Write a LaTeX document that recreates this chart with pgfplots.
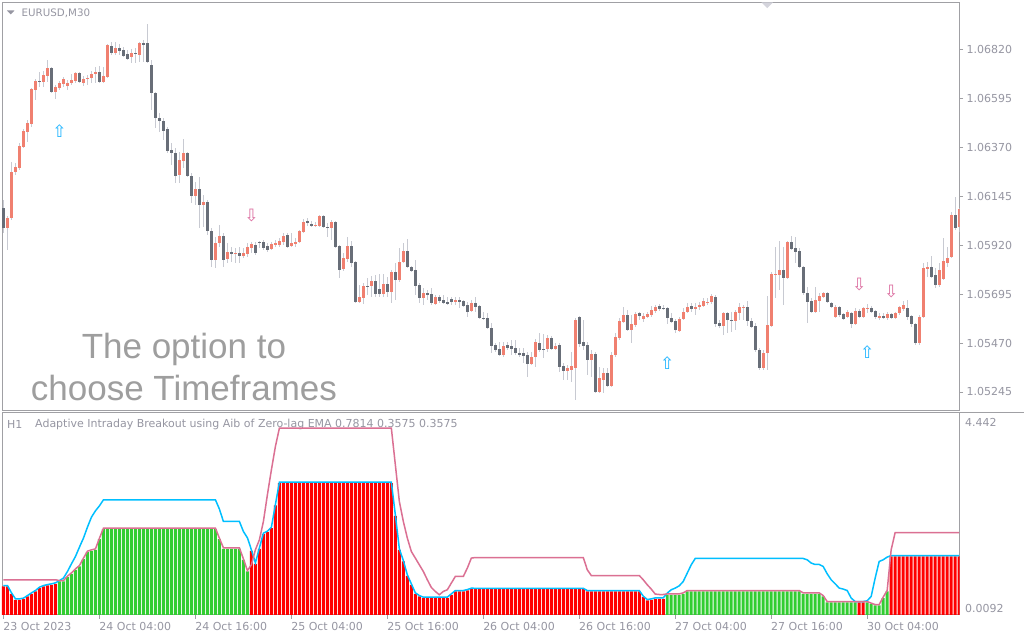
\documentclass[border=0pt]{standalone}
\usepackage{pgfplots}
\pgfplotsset{compat=1.18}
\usepackage{pgfplotstable}
\usepackage{fontspec}
\setmainfont{DejaVu Sans}
\newfontfamily\bigfont{Liberation Sans}

\definecolor{framegray}{RGB}{160,160,164}
\definecolor{ticktext}{RGB}{150,150,162}
\definecolor{bull}{RGB}{240,128,112}
\definecolor{bear}{RGB}{104,110,120}
\definecolor{wick}{RGB}{200,202,210}
\definecolor{histred}{RGB}{255,0,0}
\definecolor{histgreen}{RGB}{50,205,50}
\definecolor{aibcyan}{RGB}{0,191,255}
\definecolor{aibpink}{RGB}{219,112,147}
\definecolor{uparrow}{RGB}{30,180,255}
\definecolor{dnarrow}{RGB}{220,110,160}
\definecolor{bigtext}{RGB}{158,158,158}
\definecolor{marker}{RGB}{212,212,220}

% EURUSD M30 candles: bar index, open, high, low, close
\pgfplotstableread{
i o h l c
0 1.06092 1.06129 1.05977 1.06000
1 1.06000 1.06055 1.05899 1.06046
2 1.06046 1.06303 1.06037 1.06257
3 1.06257 1.06299 1.06244 1.06280
4 1.06276 1.06391 1.06267 1.06377
5 1.06372 1.06455 1.06368 1.06446
6 1.06441 1.06497 1.06395 1.06483
7 1.06478 1.06644 1.06464 1.06639
8 1.06635 1.06685 1.06589 1.06676
9 1.06676 1.06717 1.06648 1.06671
10 1.06671 1.06722 1.06648 1.06704
11 1.06699 1.06773 1.06671 1.06736
12 1.06736 1.06740 1.06621 1.06625
13 1.06625 1.06658 1.06593 1.06648
14 1.06644 1.06676 1.06635 1.06667
15 1.06662 1.06694 1.06648 1.06685
16 1.06653 1.06681 1.06635 1.06667
17 1.06667 1.06708 1.06658 1.06681
18 1.06676 1.06717 1.06667 1.06713
19 1.06713 1.06717 1.06667 1.06671
20 1.06667 1.06699 1.06653 1.06685
21 1.06685 1.06704 1.06658 1.06690
22 1.06690 1.06722 1.06667 1.06708
23 1.06708 1.06740 1.06667 1.06717
24 1.06717 1.06745 1.06667 1.06671
25 1.06671 1.06740 1.06667 1.06699
26 1.06694 1.06846 1.06690 1.06842
27 1.06837 1.06855 1.06796 1.06805
28 1.06805 1.06855 1.06796 1.06828
29 1.06828 1.06846 1.06796 1.06814
30 1.06819 1.06832 1.06786 1.06791
31 1.06800 1.06819 1.06773 1.06777
32 1.06786 1.06823 1.06759 1.06805
33 1.06805 1.06828 1.06759 1.06800
34 1.06796 1.06855 1.06763 1.06851
35 1.06851 1.06865 1.06763 1.06842
36 1.06851 1.06938 1.06759 1.06763
37 1.06750 1.06773 1.06543 1.06621
38 1.06621 1.06625 1.06460 1.06506
39 1.06506 1.06529 1.06441 1.06492
40 1.06492 1.06506 1.06405 1.06446
41 1.06455 1.06464 1.06345 1.06354
42 1.06359 1.06391 1.06290 1.06345
43 1.06345 1.06368 1.06207 1.06239
44 1.06244 1.06349 1.06207 1.06313
45 1.06308 1.06409 1.06276 1.06345
46 1.06345 1.06349 1.06234 1.06239
47 1.06239 1.06253 1.06115 1.06147
48 1.06147 1.06211 1.06106 1.06179
49 1.06179 1.06234 1.06000 1.06106
50 1.06106 1.06152 1.06004 1.06119
51 1.06119 1.06129 1.05968 1.05986
52 1.05986 1.06000 1.05820 1.05853
53 1.05853 1.05958 1.05816 1.05931
54 1.05931 1.06014 1.05912 1.05963
55 1.05963 1.05977 1.05820 1.05853
56 1.05857 1.05931 1.05839 1.05889
57 1.05889 1.05912 1.05843 1.05880
58 1.05880 1.05908 1.05839 1.05885
59 1.05885 1.05912 1.05839 1.05871
60 1.05871 1.05908 1.05862 1.05885
61 1.05880 1.05931 1.05866 1.05912
62 1.05908 1.05935 1.05885 1.05926
63 1.05922 1.05935 1.05876 1.05885
64 1.05935 1.05940 1.05908 1.05931
65 1.05935 1.05945 1.05899 1.05908
66 1.05917 1.05931 1.05889 1.05899
67 1.05903 1.05935 1.05899 1.05926
68 1.05922 1.05945 1.05912 1.05931
69 1.05922 1.05954 1.05912 1.05940
70 1.05935 1.05977 1.05922 1.05963
71 1.05968 1.05977 1.05908 1.05912
72 1.05917 1.05977 1.05912 1.05931
73 1.05926 1.05954 1.05912 1.05935
74 1.05935 1.05991 1.05931 1.05986
75 1.05981 1.06041 1.05977 1.06027
76 1.06032 1.06046 1.06009 1.06023
77 1.06018 1.06032 1.06004 1.06009
78 1.06009 1.06027 1.06004 1.06014
79 1.06009 1.06060 1.06004 1.06055
80 1.06055 1.06060 1.06000 1.06004
81 1.06004 1.06023 1.05958 1.06000
82 1.06000 1.06037 1.05945 1.06027
83 1.06027 1.06032 1.05908 1.05912
84 1.05917 1.05922 1.05770 1.05807
85 1.05811 1.05885 1.05802 1.05862
86 1.05857 1.05958 1.05843 1.05917
87 1.05917 1.05940 1.05820 1.05839
88 1.05843 1.05848 1.05655 1.05659
89 1.05659 1.05738 1.05655 1.05682
90 1.05678 1.05747 1.05650 1.05733
91 1.05733 1.05770 1.05692 1.05728
92 1.05733 1.05779 1.05682 1.05756
93 1.05756 1.05784 1.05682 1.05696
94 1.05719 1.05788 1.05682 1.05696
95 1.05696 1.05788 1.05682 1.05742
96 1.05742 1.05774 1.05682 1.05705
97 1.05705 1.05807 1.05655 1.05797
98 1.05797 1.05839 1.05669 1.05761
99 1.05761 1.05908 1.05751 1.05843
100 1.05843 1.05931 1.05839 1.05894
101 1.05894 1.05949 1.05816 1.05820
102 1.05820 1.05825 1.05797 1.05802
103 1.05807 1.05853 1.05692 1.05733
104 1.05738 1.05747 1.05655 1.05678
105 1.05678 1.05724 1.05646 1.05701
106 1.05701 1.05715 1.05669 1.05692
107 1.05696 1.05724 1.05646 1.05655
108 1.05650 1.05692 1.05646 1.05682
109 1.05682 1.05692 1.05655 1.05664
110 1.05669 1.05692 1.05650 1.05655
111 1.05659 1.05682 1.05646 1.05650
112 1.05673 1.05682 1.05646 1.05659
113 1.05659 1.05682 1.05646 1.05669
114 1.05669 1.05682 1.05632 1.05659
115 1.05664 1.05669 1.05636 1.05641
116 1.05646 1.05659 1.05590 1.05613
117 1.05618 1.05669 1.05613 1.05655
118 1.05655 1.05682 1.05613 1.05636
119 1.05641 1.05646 1.05581 1.05586
120 1.05586 1.05613 1.05577 1.05581
121 1.05586 1.05609 1.05535 1.05540
122 1.05540 1.05563 1.05425 1.05457
123 1.05462 1.05471 1.05429 1.05439
124 1.05443 1.05475 1.05411 1.05416
125 1.05416 1.05475 1.05406 1.05457
126 1.05462 1.05475 1.05439 1.05448
127 1.05457 1.05485 1.05416 1.05443
128 1.05448 1.05485 1.05416 1.05425
129 1.05425 1.05448 1.05406 1.05416
130 1.05425 1.05448 1.05379 1.05411
131 1.05416 1.05429 1.05314 1.05374
132 1.05374 1.05429 1.05370 1.05406
133 1.05406 1.05489 1.05360 1.05475
134 1.05471 1.05517 1.05429 1.05439
135 1.05443 1.05512 1.05402 1.05439
136 1.05443 1.05508 1.05429 1.05494
137 1.05494 1.05503 1.05439 1.05443
138 1.05443 1.05471 1.05439 1.05457
139 1.05462 1.05471 1.05337 1.05360
140 1.05365 1.05379 1.05301 1.05342
141 1.05342 1.05370 1.05301 1.05356
142 1.05347 1.05429 1.05291 1.05365
143 1.05356 1.05586 1.05209 1.05577
144 1.05590 1.05595 1.05452 1.05466
145 1.05475 1.05577 1.05439 1.05457
146 1.05462 1.05475 1.05324 1.05393
147 1.05393 1.05439 1.05314 1.05420
148 1.05420 1.05429 1.05241 1.05245
149 1.05245 1.05360 1.05241 1.05310
150 1.05301 1.05356 1.05241 1.05333
151 1.05333 1.05356 1.05268 1.05273
152 1.05273 1.05429 1.05268 1.05416
153 1.05416 1.05517 1.05406 1.05498
154 1.05494 1.05586 1.05485 1.05572
155 1.05567 1.05636 1.05563 1.05600
156 1.05600 1.05623 1.05526 1.05531
157 1.05531 1.05600 1.05471 1.05558
158 1.05554 1.05613 1.05544 1.05604
159 1.05609 1.05613 1.05577 1.05595
160 1.05581 1.05609 1.05567 1.05595
161 1.05590 1.05613 1.05586 1.05604
162 1.05600 1.05641 1.05590 1.05623
163 1.05618 1.05646 1.05609 1.05636
164 1.05641 1.05650 1.05618 1.05627
165 1.05632 1.05646 1.05623 1.05627
166 1.05632 1.05636 1.05558 1.05586
167 1.05586 1.05609 1.05563 1.05567
168 1.05572 1.05581 1.05517 1.05531
169 1.05526 1.05590 1.05521 1.05581
170 1.05581 1.05632 1.05577 1.05613
171 1.05613 1.05655 1.05609 1.05636
172 1.05641 1.05655 1.05613 1.05627
173 1.05627 1.05655 1.05600 1.05636
174 1.05636 1.05659 1.05623 1.05646
175 1.05641 1.05678 1.05636 1.05664
176 1.05655 1.05678 1.05646 1.05659
177 1.05659 1.05696 1.05650 1.05687
178 1.05682 1.05692 1.05544 1.05558
179 1.05563 1.05577 1.05540 1.05549
180 1.05549 1.05613 1.05508 1.05609
181 1.05609 1.05613 1.05517 1.05577
182 1.05577 1.05613 1.05521 1.05572
183 1.05572 1.05623 1.05531 1.05613
184 1.05609 1.05655 1.05577 1.05636
185 1.05632 1.05646 1.05577 1.05636
186 1.05636 1.05664 1.05549 1.05572
187 1.05572 1.05586 1.05540 1.05544
188 1.05549 1.05563 1.05429 1.05439
189 1.05439 1.05448 1.05347 1.05356
190 1.05356 1.05439 1.05347 1.05425
191 1.05425 1.05687 1.05347 1.05554
192 1.05549 1.05797 1.05544 1.05788
193 1.05784 1.05912 1.05678 1.05788
194 1.05784 1.05940 1.05715 1.05807
195 1.05807 1.05912 1.05646 1.05770
196 1.05770 1.05940 1.05765 1.05935
197 1.05935 1.05963 1.05899 1.05903
198 1.05908 1.05958 1.05839 1.05889
199 1.05894 1.05908 1.05816 1.05820
200 1.05820 1.05825 1.05692 1.05701
201 1.05701 1.05728 1.05563 1.05659
202 1.05664 1.05678 1.05609 1.05613
203 1.05613 1.05728 1.05609 1.05669
204 1.05664 1.05701 1.05613 1.05687
205 1.05682 1.05705 1.05678 1.05701
206 1.05701 1.05705 1.05655 1.05659
207 1.05655 1.05659 1.05632 1.05636
208 1.05590 1.05646 1.05586 1.05636
209 1.05636 1.05641 1.05590 1.05600
210 1.05604 1.05609 1.05577 1.05581
211 1.05590 1.05623 1.05586 1.05613
212 1.05609 1.05613 1.05540 1.05558
213 1.05558 1.05632 1.05554 1.05618
214 1.05618 1.05627 1.05586 1.05590
215 1.05590 1.05636 1.05586 1.05632
216 1.05627 1.05650 1.05609 1.05632
217 1.05632 1.05641 1.05609 1.05613
218 1.05618 1.05623 1.05581 1.05590
219 1.05586 1.05609 1.05577 1.05595
220 1.05595 1.05609 1.05581 1.05586
221 1.05586 1.05613 1.05577 1.05604
222 1.05604 1.05609 1.05581 1.05586
223 1.05586 1.05613 1.05581 1.05609
224 1.05609 1.05641 1.05600 1.05636
225 1.05627 1.05664 1.05618 1.05646
226 1.05632 1.05669 1.05577 1.05590
227 1.05595 1.05600 1.05544 1.05558
228 1.05558 1.05563 1.05462 1.05471
229 1.05471 1.05600 1.05462 1.05590
230 1.05590 1.05839 1.05586 1.05816
231 1.05811 1.05843 1.05774 1.05820
232 1.05820 1.05871 1.05770 1.05774
233 1.05784 1.05816 1.05724 1.05738
234 1.05738 1.05839 1.05728 1.05807
235 1.05765 1.05954 1.05761 1.05848
236 1.05839 1.05912 1.05820 1.05862
237 1.05866 1.06073 1.05862 1.06060
238 1.06060 1.06142 1.05991 1.06000
239 1.06004 1.06092 1.05981 1.06087
}\candles

% AIB indicator: red / green histogram, cyan and pink lines
\pgfplotstableread{
i red grn cy pk
0 0.630 nan 0.650 0.777
1 0.630 nan 0.650 0.777
2 0.470 nan 0.490 0.777
3 0.338 nan 0.358 0.777
4 0.338 nan 0.358 0.777
5 0.354 nan 0.374 0.777
6 0.411 nan 0.431 0.777
7 0.470 nan 0.490 0.777
8 0.521 nan 0.541 0.777
9 0.595 nan 0.615 0.777
10 0.630 nan 0.650 0.777
11 0.652 nan 0.672 0.777
12 0.668 nan 0.688 0.777
13 0.690 nan 0.710 0.777
14 nan 0.740 0.760 0.760
15 nan 0.740 0.815 0.760
16 nan 0.837 0.959 0.857
17 nan 0.909 1.128 0.929
18 nan 0.997 1.289 1.017
19 nan 1.069 1.495 1.089
20 nan 1.232 1.692 1.252
21 nan 1.385 1.934 1.405
22 nan 1.414 2.153 1.434
23 nan 1.436 2.291 1.456
24 nan 1.670 2.401 1.690
25 nan 1.890 2.533 1.910
26 nan 1.890 2.533 1.910
27 nan 1.890 2.533 1.910
28 nan 1.890 2.533 1.910
29 nan 1.890 2.533 1.910
30 nan 1.890 2.533 1.910
31 nan 1.890 2.533 1.910
32 nan 1.890 2.533 1.910
33 nan 1.890 2.533 1.910
34 nan 1.890 2.533 1.910
35 nan 1.890 2.533 1.910
36 nan 1.890 2.533 1.910
37 nan 1.890 2.533 1.910
38 nan 1.890 2.533 1.910
39 nan 1.890 2.533 1.910
40 nan 1.890 2.533 1.910
41 nan 1.890 2.533 1.910
42 nan 1.890 2.533 1.910
43 nan 1.890 2.533 1.910
44 nan 1.890 2.533 1.910
45 nan 1.890 2.533 1.910
46 nan 1.890 2.533 1.910
47 nan 1.890 2.533 1.910
48 nan 1.890 2.533 1.910
49 nan 1.890 2.533 1.910
50 nan 1.890 2.533 1.910
51 nan 1.890 2.533 1.910
52 nan 1.890 2.533 1.910
53 nan 1.890 2.533 1.910
54 nan 1.670 2.329 1.690
55 nan 1.458 2.057 1.478
56 nan 1.458 2.057 1.478
57 nan 1.458 2.057 1.478
58 nan 1.458 2.057 1.478
59 nan 1.458 2.057 1.478
60 nan 1.216 1.837 1.236
61 nan 0.959 1.699 0.979
62 1.414 nan 1.434 1.106
63 1.128 nan 1.148 1.436
64 1.458 nan 1.478 1.655
65 1.780 nan 1.800 2.057
66 1.824 nan 1.844 2.643
67 1.912 nan 1.932 3.191
68 2.408 nan 2.428 3.703
69 2.899 nan 2.919 4.106
70 2.899 nan 2.919 4.106
71 2.899 nan 2.919 4.106
72 2.899 nan 2.919 4.106
73 2.899 nan 2.919 4.106
74 2.899 nan 2.919 4.106
75 2.899 nan 2.919 4.106
76 2.899 nan 2.919 4.106
77 2.899 nan 2.919 4.106
78 2.899 nan 2.919 4.106
79 2.899 nan 2.919 4.106
80 2.899 nan 2.919 4.106
81 2.899 nan 2.919 4.106
82 2.899 nan 2.919 4.106
83 2.899 nan 2.919 4.106
84 2.899 nan 2.919 4.106
85 2.899 nan 2.919 4.106
86 2.899 nan 2.919 4.106
87 2.899 nan 2.919 4.106
88 2.899 nan 2.919 4.106
89 2.899 nan 2.919 4.106
90 2.899 nan 2.919 4.106
91 2.899 nan 2.919 4.106
92 2.899 nan 2.919 4.106
93 2.899 nan 2.919 4.106
94 2.899 nan 2.919 4.106
95 2.899 nan 2.919 4.106
96 2.899 nan 2.919 4.106
97 2.899 nan 2.919 4.106
98 2.182 nan 2.202 3.301
99 1.436 nan 1.456 2.496
100 1.179 nan 1.199 2.057
101 0.865 nan 0.885 1.692
102 0.668 nan 0.688 1.398
103 0.470 nan 0.490 1.253
104 0.411 nan 0.431 1.106
105 0.376 nan 0.396 0.959
106 0.376 nan 0.396 0.777
107 0.376 nan 0.396 0.608
108 0.376 nan 0.396 0.521
109 0.376 nan 0.396 0.448
110 0.376 nan 0.396 0.521
111 0.376 nan 0.396 0.558
112 0.448 nan 0.468 0.705
113 0.521 nan 0.541 0.850
114 0.521 nan 0.541 0.850
115 0.521 nan 0.541 0.850
116 0.542 nan 0.562 1.034
117 0.573 nan 0.593 1.253
118 0.570 nan 0.590 1.266
119 0.570 nan 0.590 1.266
120 0.570 nan 0.590 1.266
121 0.570 nan 0.590 1.266
122 0.570 nan 0.590 1.266
123 0.570 nan 0.590 1.266
124 0.570 nan 0.590 1.266
125 0.570 nan 0.590 1.266
126 0.570 nan 0.590 1.266
127 0.570 nan 0.590 1.266
128 0.570 nan 0.590 1.266
129 0.570 nan 0.590 1.266
130 0.570 nan 0.590 1.266
131 0.570 nan 0.590 1.266
132 0.570 nan 0.590 1.266
133 0.570 nan 0.590 1.266
134 0.570 nan 0.590 1.266
135 0.570 nan 0.590 1.266
136 0.570 nan 0.590 1.266
137 0.570 nan 0.590 1.266
138 0.570 nan 0.590 1.266
139 0.570 nan 0.590 1.266
140 0.570 nan 0.590 1.266
141 0.570 nan 0.590 1.266
142 0.570 nan 0.590 1.266
143 0.570 nan 0.590 1.266
144 0.570 nan 0.590 1.266
145 0.570 nan 0.590 1.266
146 0.521 nan 0.541 0.997
147 0.521 nan 0.541 0.871
148 0.521 nan 0.541 0.871
149 0.521 nan 0.541 0.871
150 0.521 nan 0.541 0.871
151 0.521 nan 0.541 0.871
152 0.521 nan 0.541 0.871
153 0.521 nan 0.541 0.871
154 0.521 nan 0.541 0.871
155 0.521 nan 0.541 0.871
156 0.521 nan 0.541 0.871
157 0.521 nan 0.541 0.871
158 0.521 nan 0.541 0.871
159 0.521 nan 0.541 0.871
160 0.398 nan 0.418 0.777
161 0.323 nan 0.343 0.668
162 0.338 nan 0.358 0.573
163 0.360 nan 0.380 0.463
164 0.360 nan 0.380 0.454
165 0.360 nan 0.380 0.454
166 nan 0.448 0.485 0.468
167 nan 0.448 0.558 0.468
168 nan 0.448 0.595 0.468
169 nan 0.448 0.645 0.468
170 nan 0.470 0.740 0.490
171 nan 0.521 0.924 0.541
172 nan 0.521 1.106 0.541
173 nan 0.521 1.245 0.541
174 nan 0.521 1.245 0.541
175 nan 0.521 1.245 0.541
176 nan 0.521 1.245 0.541
177 nan 0.521 1.245 0.541
178 nan 0.521 1.245 0.541
179 nan 0.521 1.245 0.541
180 nan 0.521 1.245 0.541
181 nan 0.521 1.245 0.541
182 nan 0.521 1.245 0.541
183 nan 0.521 1.245 0.541
184 nan 0.521 1.245 0.541
185 nan 0.521 1.245 0.541
186 nan 0.521 1.245 0.541
187 nan 0.521 1.245 0.541
188 nan 0.521 1.245 0.541
189 nan 0.521 1.245 0.541
190 nan 0.521 1.245 0.541
191 nan 0.521 1.245 0.541
192 nan 0.521 1.245 0.541
193 nan 0.521 1.245 0.541
194 nan 0.521 1.245 0.541
195 nan 0.521 1.245 0.541
196 nan 0.521 1.245 0.541
197 nan 0.521 1.245 0.541
198 nan 0.521 1.245 0.541
199 nan 0.521 1.245 0.541
200 nan 0.470 1.245 0.490
201 nan 0.470 1.216 0.490
202 nan 0.470 1.144 0.490
203 nan 0.470 1.113 0.490
204 nan 0.470 1.113 0.490
205 nan 0.411 1.069 0.431
206 nan 0.279 0.909 0.299
207 nan 0.279 0.777 0.299
208 nan 0.279 0.690 0.299
209 nan 0.279 0.595 0.299
210 nan 0.279 0.573 0.299
211 nan 0.279 0.542 0.299
212 nan 0.279 0.376 0.299
213 nan 0.279 0.299 0.299
214 0.279 nan 0.299 0.299
215 0.279 nan 0.299 0.299
216 nan 0.279 0.316 0.299
217 nan 0.244 0.411 0.264
218 nan 0.213 0.815 0.233
219 nan 0.213 1.179 0.233
220 nan 0.376 1.216 0.396
221 nan 0.521 1.275 0.541
222 1.289 nan 1.309 1.436
223 1.289 nan 1.309 1.815
224 1.289 nan 1.309 1.815
225 1.289 nan 1.309 1.815
226 1.289 nan 1.309 1.815
227 1.289 nan 1.309 1.815
228 1.289 nan 1.309 1.815
229 1.289 nan 1.309 1.815
230 1.289 nan 1.309 1.815
231 1.289 nan 1.309 1.815
232 1.289 nan 1.309 1.815
233 1.289 nan 1.309 1.815
234 1.289 nan 1.309 1.815
235 1.289 nan 1.309 1.815
236 1.289 nan 1.309 1.815
237 1.289 nan 1.309 1.815
238 1.289 nan 1.309 1.815
239 1.289 nan 1.309 1.815
}\aib

\newcommand{\smallfont}{\fontsize{11}{13}\selectfont}

\begin{document}
\begin{tikzpicture}
% page background, it sets the picture size
\fill[white] (0pt,0pt) rectangle (1024pt,640pt);

% window captions (drawn first so the plots lie over them)
\fill[ticktext] (7pt,629.5pt) -- (14.5pt,629.5pt) -- (10.75pt,625.5pt) -- cycle;
\node[anchor=west, inner sep=0pt, text=ticktext, font=\fontsize{10.3}{12}\selectfont] at (21.5pt,627.2pt) {EURUSD,M30};
\node[anchor=west, inner sep=0pt, text=ticktext, font=\smallfont] at (7pt,215pt) {H1};
\node[anchor=west, inner sep=0pt, text=ticktext, font=\smallfont] at (35pt,215pt)
  {Adaptive Intraday Breakout using Aib of Zero-lag EMA 0.7814 0.3575 0.3575};
\node[align=center, inner sep=0pt, text=bigtext, font={\bigfont\fontsize{35}{42}\selectfont}]
  at (184pt,273pt) {The option to\\choose Timeframes};

% price chart
\begin{axis}[
  at={(2pt,229pt)}, anchor=south west,
  width=958pt, height=409pt, scale only axis,
  xmin=-0.375, xmax=239.125,
  ymin=1.05158, ymax=1.07039,
  axis line style={framegray, line width=0.8pt},
  xtick=\empty,
  ytick={1.05245,1.05470,1.05695,1.05920,1.06145,1.06370,1.06595,1.06820},
  yticklabels={1.05245,1.05470,1.05695,1.05920,1.06145,1.06370,1.06595,1.06820},
  ytick pos=right, yticklabel pos=right,
  tick align=outside, major tick length=3.5pt,
  tick style={framegray, line width=0.8pt},
  yticklabel style={font=\smallfont, text=ticktext},
]
% wicks
\addplot[draw=none, mark=none,
  error bars/.cd, y dir=plus, y explicit, error mark=none,
  error bar style={draw=wick, line width=1pt}]
  table[x=i, y=l, y error plus expr={\thisrow{h}-\thisrow{l}}] {\candles};
% bull bodies
\addplot[draw=none, mark=none,
  error bars/.cd, y dir=plus, y explicit, error mark=none,
  error bar style={draw=bull, line width=3pt}]
  table[x=i, y expr={(\thisrow{c}>=\thisrow{o}) ? \thisrow{o} : nan},
        y error plus expr={max(\thisrow{c}-\thisrow{o},0.00004)}] {\candles};
% bear bodies
\addplot[draw=none, mark=none,
  error bars/.cd, y dir=plus, y explicit, error mark=none,
  error bar style={draw=bear, line width=3pt}]
  table[x=i, y expr={(\thisrow{c}<\thisrow{o}) ? \thisrow{c} : nan},
        y error plus expr={max(\thisrow{o}-\thisrow{c},0.00004)}] {\candles};
% signal arrows
\addplot[color=uparrow, only marks, mark=text, text mark={⇧}, text mark as node=true,
  text mark style={font=\fontsize{17}{17}\selectfont, text=uparrow, inner sep=0pt}]
  coordinates {(14,1.06446) (166,1.05379) (216,1.05427)};
\addplot[color=dnarrow, only marks, mark=text, text mark={⇩}, text mark as node=true,
  text mark style={font=\fontsize{17}{17}\selectfont, text=dnarrow, inner sep=0pt}]
  coordinates {(62,1.06055) (214,1.05740) (222,1.05708)};
\end{axis}

% indicator window
\begin{axis}[
  at={(2pt,25pt)}, anchor=south west,
  width=958pt, height=202pt, scale only axis,
  xmin=-0.375, xmax=239.125,
  ymin=0.0092, ymax=4.442,
  axis line style={framegray, line width=0.8pt},
  xtick={0,24,48,72,96,120,144,168,192,216},
  xticklabels={23 Oct 2023,24 Oct 04:00,24 Oct 16:00,25 Oct 04:00,25 Oct 16:00,
    26 Oct 04:00,26 Oct 16:00,27 Oct 04:00,27 Oct 16:00,30 Oct 04:00},
  xtick pos=bottom,
  ytick={0.0092,4.442},
  yticklabels={{\raisebox{6.5pt}[\height][\depth]{0.0092}},{\raisebox{-9.5pt}[\height][\depth]{4.442}}},
  ytick pos=right, yticklabel pos=right,
  tick align=outside, major tick length=4pt,
  xtick style={framegray, line width=0.8pt},
  ytick style={draw=none},
  xticklabel style={font=\smallfont, text=ticktext, anchor=north west, xshift=-3.6pt},
  yticklabel style={font=\smallfont, text=ticktext, xshift=-2pt},
]
\addplot[ybar, bar width=3pt, bar shift=0pt, fill=histred, draw=none] table[x=i, y=red] {\aib};
\addplot[ybar, bar width=3pt, bar shift=0pt, fill=histgreen, draw=none] table[x=i, y=grn] {\aib};
\addplot[aibcyan, line width=1.5pt, mark=none] table[x=i, y=cy] {\aib};
\addplot[aibpink, line width=1.5pt, mark=none] table[x=i, y=pk] {\aib};
\end{axis}

% separator and shift marker
\draw[framegray, line width=0.8pt] (960pt,227pt) -- (1024pt,227pt);
\fill[marker] (761.7pt,637.6pt) -- (773.3pt,637.6pt) -- (767.5pt,631.8pt) -- cycle;
\end{tikzpicture}
\end{document}
